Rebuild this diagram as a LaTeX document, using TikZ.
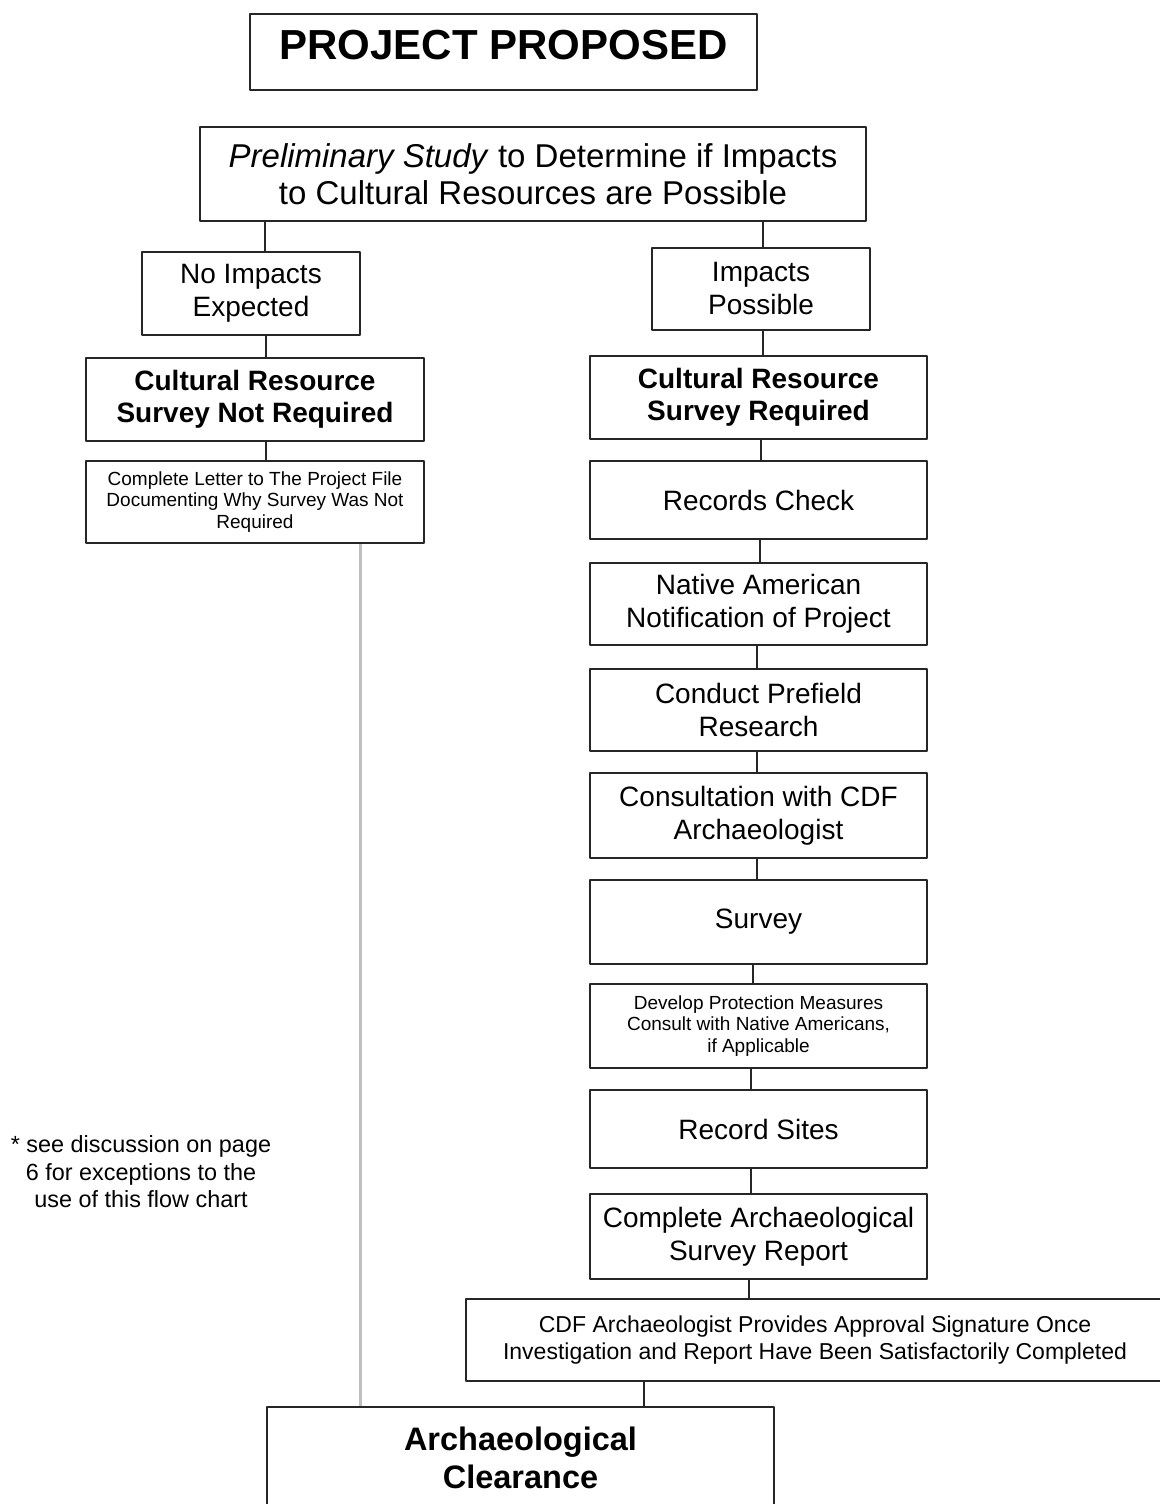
\documentclass[tikz,border=0pt]{standalone}
\usepackage{fontspec}
\setmainfont{Liberation Sans}
\begin{document}
\begin{tikzpicture}[x=1pt, y=-1pt, line join=round,
		box/.style={draw=black!85, line width=2.2pt, align=center, inner sep=0pt, minimum width=337pt},
		body/.style={font=\fontsize{28}{33}\selectfont},
		bold/.style={font=\fontsize{28}{32}\selectfont\bfseries},
		small/.style={font=\fontsize{19}{21.5}\selectfont},
		link/.style={draw=black!85, line width=1.6pt},
		greylink/.style={draw=black!25, line width=3pt}]
	\def\xl{255} \def\xr{758.5} % Cột trái, cột phải
	\useasboundingbox (0,0) rectangle (1159,1504);
	\node[box, minimum width=507pt, minimum height=76pt, font=\fontsize{42}{48}\selectfont\bfseries] (proposed) at (503.5,52) {\raisebox{7pt}[\height][\depth]{PROJECT PROPOSED}};
	\node[box, minimum width=666pt, minimum height=94pt, font=\fontsize{33}{37}\selectfont] (prelim) at (533,174) {\textit{Preliminary Study} to Determine if Impacts\\to Cultural Resources are Possible};
	% cột trái
	\node[box, body, minimum width=218pt, minimum height=83pt] (noimp) at (251,293.5) {No Impacts\\Expected};
	\node[box, bold, minimum width=338pt, minimum height=83pt] (notreq) at (\xl,399.5) {Cultural Resource\\Survey Not Required};
	\node[box, small, minimum width=338pt, minimum height=82pt] (letter) at (\xl,502) {Complete Letter to The Project File\\Documenting Why Survey Was Not\\Required};
	\node[font=\fontsize{23.4}{27.5}\selectfont, align=center] (note) at (141,1172) {* see discussion on page\\6 for exceptions to the\\use of this flow chart};
	% cột phải
	\node[box, body, minimum width=218pt, minimum height=82pt] (imposs) at (761,289) {Impacts\\Possible};
	\node[box, bold, minimum height=83pt] (req) at (\xr,397.5) {Cultural Resource\\Survey Required};
	\node[box, body, minimum height=78pt] (records) at (\xr,500) {Records Check};
	\node[box, body, minimum height=82pt] (native) at (\xr,604) {Native American\\Notification of Project};
	\node[box, body, minimum height=82pt] (prefield) at (\xr,710) {Conduct Prefield\\Research};
	\node[box, body, minimum height=85pt] (consult) at (\xr,815.5) {Consultation with CDF\\Archaeologist};
	\node[box, body, minimum height=84pt] (survey) at (\xr,922) {Survey};
	\node[box, small, minimum height=84pt] (develop) at (\xr,1026) {Develop Protection Measures\\Consult with Native Americans,\\if Applicable};
	\node[box, body, minimum height=78pt] (record) at (\xr,1129) {Record Sites};
	\node[box, body, minimum height=85pt] (report) at (\xr,1236.5) {Complete Archaeological\\Survey Report};
	\node[box, minimum width=698pt, minimum height=82pt, font=\fontsize{23}{27}\selectfont] (cdf) at (815,1340) {CDF Archaeologist Provides Approval Signature Once\\Investigation and Report Have Been Satisfactorily Completed};
	\node[box, minimum width=507pt, minimum height=101pt, font=\fontsize{32.5}{38}\selectfont\bfseries] (clear) at (520.5,1457.5) {Archaeological\\Clearance};
	% nối
	\draw[link] ([xshift=14pt]noimp.north) -- ([xshift=14pt]noimp.north |- prelim.south);
	\draw[link] ([xshift=2pt]imposs.north) -- ([xshift=2pt]imposs.north |- prelim.south);
	\draw[link] ([xshift=11pt]notreq.north) -- ([xshift=11pt]notreq.north |- noimp.south);
	\draw[link] ([xshift=11pt]letter.north) -- ([xshift=11pt]notreq.south);
	\draw[link] ([xshift=4.5pt]req.north) -- ([xshift=4.5pt]req.north |- imposs.south);
	\draw[link] ([xshift=2.5pt]records.north) -- ([xshift=2.5pt]req.south);
	\draw[link] ([xshift=1.5pt]native.north) -- ([xshift=1.5pt]records.south);
	\draw[link] ([xshift=-1.5pt]prefield.north) -- ([xshift=-1.5pt]native.south);
	\draw[link] ([xshift=-1.5pt]consult.north) -- ([xshift=-1.5pt]prefield.south);
	\draw[link] ([xshift=-1.5pt]survey.north) -- ([xshift=-1.5pt]consult.south);
	\draw[link] ([xshift=-5.5pt]develop.north) -- ([xshift=-5.5pt]survey.south);
	\draw[link] ([xshift=-7.5pt]record.north) -- ([xshift=-7.5pt]develop.south);
	\draw[link] ([xshift=-7.5pt]report.north) -- ([xshift=-7.5pt]record.south);
	\draw[link] ([xshift=-66pt]cdf.north) -- ([xshift=-66pt]cdf.north |- report.south);
	\draw[link] ([xshift=123.5pt]clear.north) -- ([xshift=123.5pt]clear.north |- cdf.south);
	\draw[greylink] ([xshift=105pt]letter.south) -- ([xshift=105pt]letter.south |- clear.north);
\end{tikzpicture}
\end{document}
